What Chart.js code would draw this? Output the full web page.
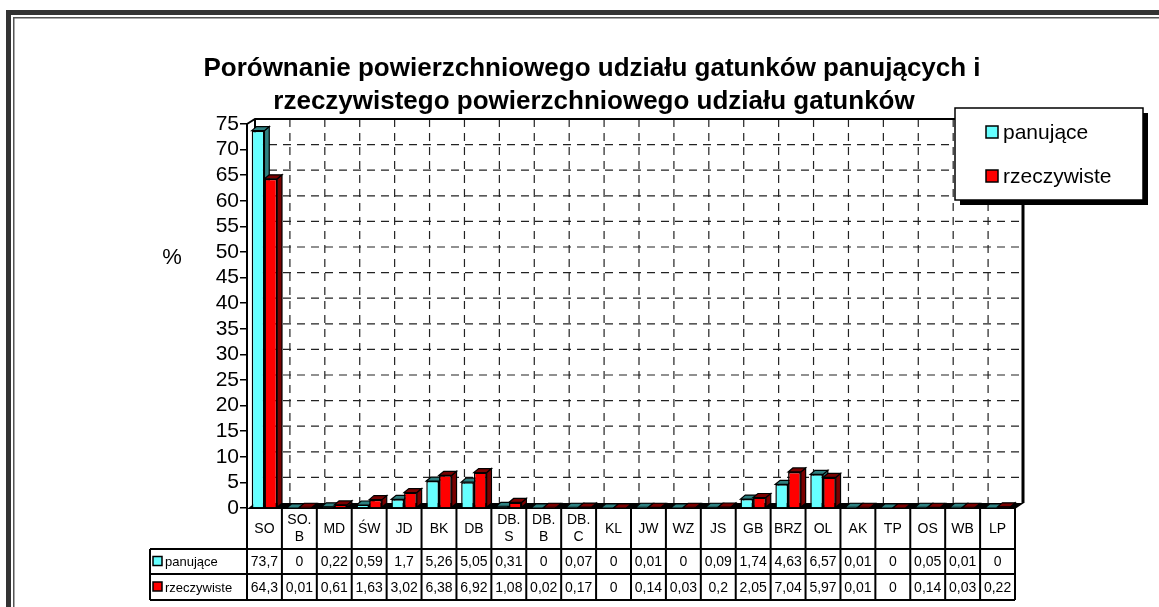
<!DOCTYPE html>
<html>
<head>
<meta charset="utf-8">
<script src="https://cdn.jsdelivr.net/npm/chart.js@4"></script>
<style>
  html, body { margin: 0; padding: 0; background: #fff; }
  canvas { display: block; }
</style>
</head>
<body>
<canvas id="wykres" width="1159" height="607"></canvas>
<script>
// Dane wykresu
const gatunki = ['SO', ['SO.', 'B'], 'MD', 'ŚW', 'JD', 'BK', 'DB', ['DB.', 'S'], ['DB.', 'B'], ['DB.', 'C'], 'KL', 'JW', 'WZ', 'JS', 'GB', 'BRZ', 'OL', 'AK', 'TP', 'OS', 'WB', 'LP'];
const panujace = [73.7, 0, 0.22, 0.59, 1.7, 5.26, 5.05, 0.31, 0, 0.07, 0, 0.01, 0, 0.09, 1.74, 4.63, 6.57, 0.01, 0, 0.05, 0.01, 0];
const rzeczywiste = [64.3, 0.01, 0.61, 1.63, 3.02, 6.38, 6.92, 1.08, 0.02, 0.17, 0, 0.14, 0.03, 0.2, 2.05, 7.04, 5.97, 0.01, 0, 0.14, 0.03, 0.22];
const nazwySerii = ['panujące', 'rzeczywiste'];
const tytul = ['Porównanie powierzchniowego udziału gatunków panujących i', 'rzeczywistego powierzchniowego udziału gatunków'];

const kolory = ['#66FFFF', '#FF0000'];
const koloryBoku = ['#2E8080', '#7A0000'];
const GL = 8, GY = 5; // glebokosc efektu 3D

function fmt(v) {
  return String(v).replace('.', ',');
}

// Ramka, tytul i napis osi
const tloPlugin = {
  id: 'tlo',
  beforeDraw(chart) {
    const ctx = chart.ctx;
    ctx.save();
    ctx.fillStyle = '#fff';
    ctx.fillRect(0, 0, chart.width, chart.height);
    ctx.fillStyle = '#333';
    ctx.fillRect(6, 10, chart.width, 5);
    ctx.fillRect(6, 10, 5, chart.height);
    ctx.fillStyle = '#555';
    ctx.fillRect(13, 17, chart.width, 1.5);
    ctx.fillRect(13, 17, 1.5, chart.height);

    ctx.fillStyle = '#000';
    ctx.textAlign = 'center';
    ctx.textBaseline = 'alphabetic';
    ctx.font = 'bold 26px Arial';
    ctx.fillText(tytul[0], 592, 76);
    ctx.fillText(tytul[1], 594, 109);

    ctx.font = '22px Arial';
    ctx.textBaseline = 'middle';
    ctx.fillText('%', 172, 258);
    ctx.restore();
  }
};

// Tylna sciana, podloga i boki slupkow
const sciana3d = {
  id: 'sciana3d',
  beforeDatasetsDraw(chart) {
    const ctx = chart.ctx;
    const xs = chart.scales.x, ys = chart.scales.y;
    const a = chart.chartArea;
    const n = gatunki.length;
    const kat = (a.right - a.left) / n;
    ctx.save();

    // linie siatki na tylnej scianie
    ctx.strokeStyle = '#222';
    ctx.lineWidth = 1.2;
    ctx.setLineDash([8, 6]);
    for (let v = 5; v < 75; v += 5) {
      const y = ys.getPixelForValue(v) - GY;
      ctx.beginPath();
      ctx.moveTo(a.left + GL, y);
      ctx.lineTo(a.right + GL, y);
      ctx.stroke();
    }
    for (let i = 1; i < n; i++) {
      const x = xs.getPixelForValue(i) - kat / 2 + GL;
      ctx.beginPath();
      ctx.moveTo(x, a.top - GY);
      ctx.lineTo(x, a.bottom - GY);
      ctx.stroke();
    }
    ctx.setLineDash([]);

    // krawedzie sciany
    ctx.strokeStyle = '#000';
    ctx.lineWidth = 2;
    ctx.beginPath();
    ctx.moveTo(a.left, a.top);
    ctx.lineTo(a.left + GL, a.top - GY);
    ctx.lineTo(a.right + GL, a.top - GY);
    ctx.stroke();
    ctx.beginPath();
    ctx.moveTo(a.left + GL, a.top - GY);
    ctx.lineTo(a.left + GL, a.bottom - GY);
    ctx.stroke();
    ctx.lineWidth = 3;
    ctx.beginPath();
    ctx.moveTo(a.right + GL, a.top - GY);
    ctx.lineTo(a.right + GL, a.bottom - GY);
    ctx.stroke();

    // podloga
    ctx.fillStyle = '#000';
    ctx.beginPath();
    ctx.moveTo(a.left, a.bottom + 1);
    ctx.lineTo(a.left + GL, a.bottom - GY);
    ctx.lineTo(a.right + GL + 1, a.bottom - GY);
    ctx.lineTo(a.right, a.bottom + 1);
    ctx.closePath();
    ctx.fill();

    // boki i gora slupkow
    chart.data.datasets.forEach(function (ds, di) {
      chart.getDatasetMeta(di).data.forEach(function (el) {
        const l = el.x - el.width / 2, r = el.x + el.width / 2;
        const t = Math.min(el.y, el.base), b = el.base;
        ctx.fillStyle = koloryBoku[di];
        ctx.strokeStyle = '#000';
        ctx.lineWidth = 1.2;
        ctx.beginPath();
        ctx.moveTo(r, t);
        ctx.lineTo(r + GL * 0.6, t - GY * 0.8);
        ctx.lineTo(r + GL * 0.6, b - GY * 0.8);
        ctx.lineTo(r, b);
        ctx.closePath();
        ctx.fill();
        ctx.stroke();
        ctx.beginPath();
        ctx.moveTo(l, t);
        ctx.lineTo(l + GL * 0.6, t - GY * 0.8);
        ctx.lineTo(r + GL * 0.6, t - GY * 0.8);
        ctx.lineTo(r, t);
        ctx.closePath();
        ctx.fill();
        ctx.stroke();
      });
    });
    ctx.restore();
  }
};

// Tabela danych i legenda
const tabela = {
  id: 'tabela',
  afterDraw(chart) {
    const ctx = chart.ctx;
    const xs = chart.scales.x;
    const a = chart.chartArea;
    const n = gatunki.length;
    const kat = (a.right - a.left) / n;
    const y0 = a.bottom, y1 = 549, y2 = 574, y3 = 600;
    const lewo = 150;
    ctx.save();

    ctx.strokeStyle = '#000';
    ctx.lineWidth = 2;
    ctx.beginPath();
    [y1, y2, y3].forEach(function (y) {
      ctx.moveTo(lewo, y);
      ctx.lineTo(a.right, y);
    });
    ctx.moveTo(lewo, y1);
    ctx.lineTo(lewo, y3);
    for (let i = 0; i <= n; i++) {
      const x = i < n ? xs.getPixelForValue(i) - kat / 2 : xs.getPixelForValue(n - 1) + kat / 2;
      ctx.moveTo(x, y0);
      ctx.lineTo(x, y3);
    }
    ctx.stroke();

    ctx.fillStyle = '#000';
    ctx.textAlign = 'center';
    ctx.textBaseline = 'middle';
    ctx.font = '14px Arial';
    gatunki.forEach(function (g, i) {
      const x = xs.getPixelForValue(i);
      if (Array.isArray(g)) {
        ctx.fillText(g[0], x, 520);
        ctx.fillText(g[1], x, 537);
      } else {
        ctx.fillText(g, x, 529);
      }
      ctx.fillText(fmt(panujace[i]), x, 562);
      ctx.fillText(fmt(rzeczywiste[i]), x, 588);
    });

    // opisy wierszy tabeli
    ctx.font = '13px Arial';
    [[y1, y2], [y2, y3]].forEach(function (w, k) {
      const ym = (w[0] + w[1]) / 2;
      ctx.fillStyle = kolory[k];
      ctx.fillRect(153, ym - 5, 9, 9);
      ctx.lineWidth = 1.5;
      ctx.strokeRect(153, ym - 5, 9, 9);
      ctx.fillStyle = '#000';
      ctx.textAlign = 'left';
      ctx.fillText(nazwySerii[k], 165, ym + 1);
    });

    // legenda
    ctx.fillStyle = '#000';
    ctx.fillRect(960, 113, 188, 92);
    ctx.fillStyle = '#fff';
    ctx.fillRect(955, 108, 188, 92);
    ctx.lineWidth = 1.5;
    ctx.strokeRect(955, 108, 188, 92);
    ctx.font = '21px Arial';
    nazwySerii.forEach(function (s, k) {
      const ym = 132 + k * 44;
      ctx.fillStyle = kolory[k];
      ctx.fillRect(986, ym - 6, 12, 12);
      ctx.lineWidth = 1.5;
      ctx.strokeRect(986, ym - 6, 12, 12);
      ctx.fillStyle = '#000';
      ctx.textAlign = 'left';
      ctx.fillText(s, 1003, ym + 1);
    });
    ctx.restore();
  }
};

new Chart(document.getElementById('wykres'), {
  type: 'bar',
  data: {
    labels: gatunki,
    datasets: [{
      label: nazwySerii[0],
      data: panujace,
      backgroundColor: kolory[0],
      borderColor: '#000',
      borderWidth: 1.5,
      barPercentage: 1,
      categoryPercentage: 0.73
    }, {
      label: nazwySerii[1],
      data: rzeczywiste,
      backgroundColor: kolory[1],
      borderColor: '#000',
      borderWidth: 1.5,
      barPercentage: 1,
      categoryPercentage: 0.73
    }]
  },
  options: {
    responsive: false,
    animation: false,
    devicePixelRatio: 1,
    layout: { padding: { left: 0, top: 124, right: 144, bottom: 99 } },
    plugins: {
      legend: { display: false },
      title: { display: false },
      tooltip: { enabled: false }
    },
    scales: {
      x: { display: false },
      y: {
        min: 0,
        max: 75,
        afterFit: function (scale) { scale.width = 247; },
        ticks: { stepSize: 5, autoSkip: false, color: '#000', font: { family: 'Arial', size: 21 }, padding: 1 },
        grid: { drawOnChartArea: false, drawTicks: true, tickLength: 7, color: '#000', lineWidth: 1.5 },
        border: { display: true, color: '#000', width: 2 }
      }
    }
  },
  plugins: [tloPlugin, sciana3d, tabela]
});
</script>
</body>
</html>
